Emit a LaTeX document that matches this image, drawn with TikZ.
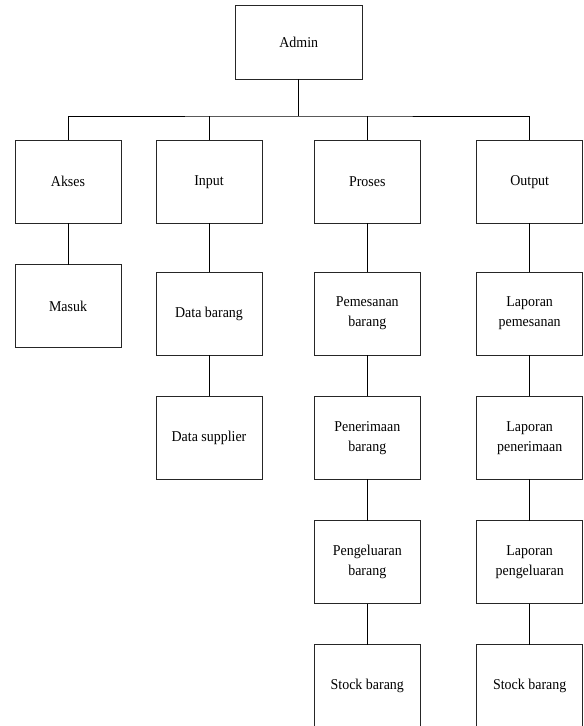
\documentclass[tikz,border=0pt]{standalone}
\usepackage{fontspec}
\setmainfont{Liberation Serif}[FakeStretch=0.93]
\begin{document}
\begin{tikzpicture}[x=1pt,y=-1pt,
  box/.style={draw=black!85, line width=0.8pt, minimum width=106pt, minimum height=83pt,
    inner sep=0pt, outer sep=0pt, align=center, font=\fontsize{15pt}{20pt}\selectfont},
  link/.style={draw=black, line width=0.8pt}]
\useasboundingbox (0,0) rectangle (584,726);
\clip (0,0) rectangle (584,726);
\fill[white] (0,0) rectangle (584,726);
\node[box, minimum width=126.3pt, minimum height=74.3pt] (admin) at (298.8,42.2) {Admin};
\node[box] (akses) at (68,181.8) {Akses};
\node[box] (input) at (209,181.8) {Input};
\node[box] (proses) at (367.3,181.8) {Proses};
\node[box] (output) at (529.7,181.8) {Output};
\node[box] (masuk) at (68,306.3) {Masuk};
\node[box] (databarang) at (209,313.5) {Data barang};
\node[box] (datasupplier) at (209,437.7) {Data supplier};
\node[box] (pemesanan) at (367.3,313.5) {Pemesanan\\barang};
\node[box] (penerimaan) at (367.3,437.7) {Penerimaan\\barang};
\node[box] (pengeluaran) at (367.3,562.2) {Pengeluaran\\barang};
\node[box] (stock1) at (367.3,686) {Stock barang};
\node[box] (lappem) at (529.7,313.5) {Laporan\\pemesanan};
\node[box] (lappen) at (529.7,437.7) {Laporan\\penerimaan};
\node[box] (lappeng) at (529.7,562.2) {Laporan\\pengeluaran};
\node[box] (stock2) at (529.7,686) {Stock barang};
\coordinate (bus) at (298.8,116);
\draw[link] (admin.south) -- (bus);
\draw[link] (akses.north) |- (bus) -| (output.north);
\draw[link] (input.north) -- (input.north |- bus);
\draw[link] (proses.north) -- (proses.north |- bus);
\draw[link] (akses.south) -- (masuk.north);
\draw[link] (input.south) -- (databarang.north);
\draw[link] (databarang.south) -- (datasupplier.north);
\draw[link] (proses.south) -- (pemesanan.north);
\draw[link] (pemesanan.south) -- (penerimaan.north);
\draw[link] (penerimaan.south) -- (pengeluaran.north);
\draw[link] (pengeluaran.south) -- (stock1.north);
\draw[link] (output.south) -- (lappem.north);
\draw[link] (lappem.south) -- (lappen.north);
\draw[link] (lappen.south) -- (lappeng.north);
\draw[link] (lappeng.south) -- (stock2.north);
\end{tikzpicture}
\end{document}
